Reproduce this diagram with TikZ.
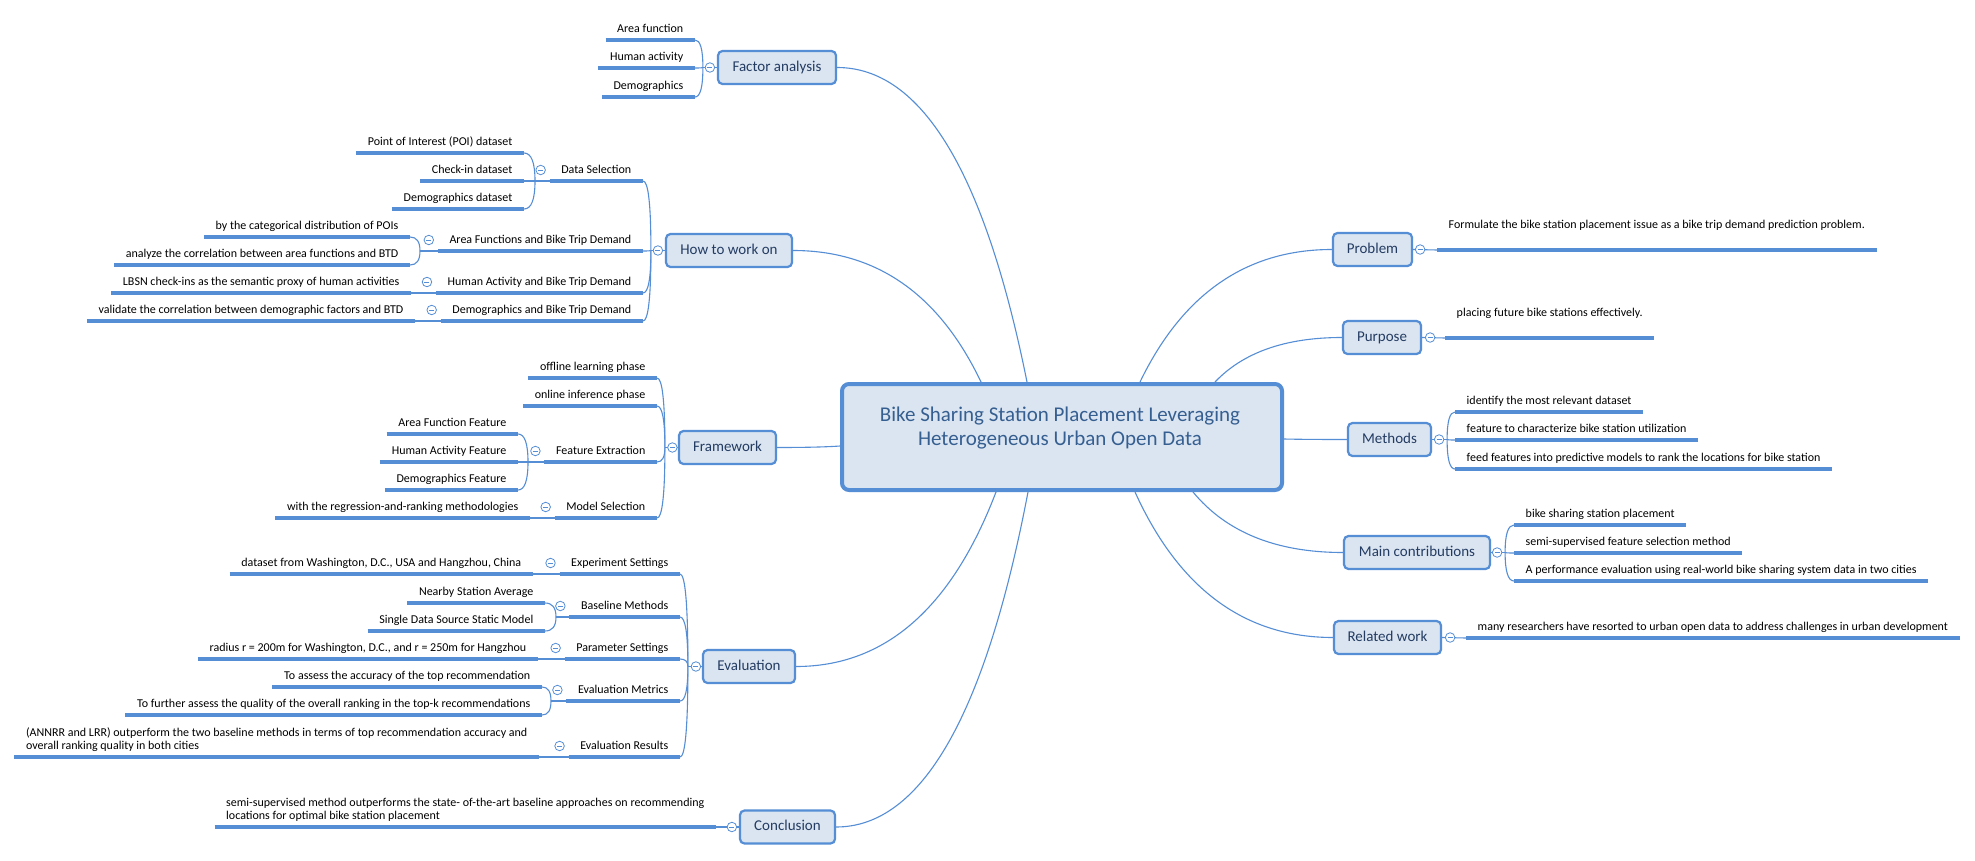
\documentclass[tikz,border=0pt]{standalone}
\usepackage{fontspec}
\setmainfont{Carlito}
\usetikzlibrary{calc}
\definecolor{bblue}{RGB}{85,142,213}
\definecolor{bfill}{RGB}{219,229,241}
\definecolor{tdark}{RGB}{36,60,98}
\definecolor{rtext}{RGB}{54,95,145}
\newcommand{\mainlink}[2]{%
  \coordinate (mlA) at ($(#1)!1/3!(#2)$);
  \coordinate (mlC) at (mlA |- #2);
  \draw[conn] (#1) .. controls ($(#1)!2/3!(mlC)$) and ($(#2)!2/3!(mlC)$) .. (#2);}
\newcommand{\brk}[2]{%
  \coordinate (bkC) at (#1 |- #2);
  \draw[conn] (#1) .. controls ($(#1)!2/3!(bkC)$) and ($(#2)!2/3!(bkC)$) .. (#2);}
\tikzset{
  conn/.style={draw=bblue, line width=1.1pt},
  uline/.style={draw=bblue, line width=3.2pt},
  topic/.style={draw=bblue, line width=2.2pt, fill=bfill, rounded corners=4.5pt,
    minimum height=33pt, inner xsep=4pt, inner ysep=0pt, text height=11pt, text depth=3.5pt,
    font=\fontsize{15}{18}\selectfont, text=tdark},
  leafL/.style={anchor=south east, inner xsep=11.5pt, inner ysep=0pt, text depth=7.5pt,
    font=\fontsize{12}{13}\selectfont, text=black},
  leafR/.style={leafL, anchor=south west},
  leafhi/.style={text depth=21.5pt},
  toggle/.style={circle, draw=bblue, fill=white, line width=0.8pt, minimum size=9.5pt, inner sep=0pt,
    path picture={\draw[bblue, line width=0.8pt] ([xshift=-2.5pt]path picture bounding box.center) -- ([xshift=2.5pt]path picture bounding box.center);}},
  rootbox/.style={draw=bblue, line width=4pt, fill=bfill, rounded corners=7pt,
    minimum width=440pt, minimum height=106pt},
  roottitle/.style={font=\fontsize{21}{24}\selectfont, text=rtext, align=center},
}
\begin{document}
\begin{tikzpicture}[x=1pt,y=-1pt]
\useasboundingbox (0,0) rectangle (1975,861);
\fill[white] (0,0) rectangle (1975,861);

% root
\node[rootbox] (root) at (1062,437) {};
\node[roottitle] (title) at (1060,428) {Bike Sharing Station Placement Leveraging\\Heterogeneous Urban Open Data};

% main topics
\node[topic, minimum width=118pt] (fa) at (777,67.5) {Factor analysis};
\node[topic, minimum width=126pt] (hw) at (729,250.5) {How to work on};
\node[topic, minimum width=97pt] (fw) at (727.5,447.5) {Framework};
\node[topic, minimum width=92pt] (ev) at (749,666.5) {Evaluation};
\node[topic, minimum width=95pt] (co) at (787.5,827) {Conclusion};
\node[topic, minimum width=79pt] (pr) at (1372.5,249.5) {Problem};
\node[topic, minimum width=78pt] (pu) at (1382,337.5) {Purpose};
\node[topic, minimum width=83pt] (me) at (1389.5,439.5) {Methods};
\node[topic, minimum width=146pt] (mc) at (1417,552.5) {Main contributions};
\node[topic, minimum width=107pt] (rw) at (1387.5,637.5) {Related work};

% Factor analysis
\node[leafL] (fa1) at (695,40) {Area function};
\node[leafL] (fa2) at (695,68) {Human activity};
\node[leafL] (fa3) at (695,97) {Demographics};

% How to work on
\node[leafL] (ds) at (643,181) {Data Selection};
\node[leafL] (af) at (643,251) {Area Functions and Bike Trip Demand};
\node[leafL] (ha) at (643,293) {Human Activity and Bike Trip Demand};
\node[leafL] (dm) at (643,321) {Demographics and Bike Trip Demand};
\node[leafL] (ds1) at (524,153) {Point of Interest (POI) dataset};
\node[leafL] (ds2) at (524,181) {Check-in dataset};
\node[leafL] (ds3) at (524,209) {Demographics dataset};
\node[leafL] (af1) at (410,237) {by the categorical distribution of POIs};
\node[leafL] (af2) at (410,265) {analyze the correlation between area functions and BTD};
\node[leafL] (ha1) at (411,293) {LBSN check-ins as the semantic proxy of human activities};
\node[leafL] (dm1) at (415,321) {validate the correlation between demographic factors and BTD};

% Framework
\node[leafL] (fw1) at (657,378) {offline learning phase};
\node[leafL] (fw2) at (657,406) {online inference phase};
\node[leafL] (fe) at (657,462) {Feature Extraction};
\node[leafL] (ms) at (657,518) {Model Selection};
\node[leafL] (fe1) at (518,434) {Area Function Feature};
\node[leafL] (fe2) at (518,462) {Human Activity Feature};
\node[leafL] (fe3) at (518,490) {Demographics Feature};
\node[leafL] (ms1) at (530,518) {with the regression-and-ranking methodologies};

% Evaluation
\node[leafL] (es) at (680,574) {Experiment Settings};
\node[leafL] (bm) at (680,617) {Baseline Methods};
\node[leafL] (ps) at (680,659) {Parameter Settings};
\node[leafL] (em) at (680,701) {Evaluation Metrics};
\node[leafL] (er) at (680,757) {Evaluation Results};
\node[leafL] (es1) at (533,574) {dataset from Washington, D.C., USA and Hangzhou, China};
\node[leafL] (bm1) at (545,603) {Nearby Station Average};
\node[leafL] (bm2) at (545,631) {Single Data Source Static Model};
\node[leafL] (ps1) at (538,659) {radius r = 200m for Washington, D.C., and r = 250m for Hangzhou};
\node[leafL] (em1) at (542,687) {To assess the accuracy of the top recommendation};
\node[leafL] (em2) at (542,715) {To further assess the quality of the overall ranking in the top-k recommendations};
\node[leafL] (er1) at (539,757) {\begin{tabular}[b]{@{}l@{}}(ANNRR and LRR) outperform the two baseline methods in terms of top recommendation accuracy and\\overall ranking quality in both cities\end{tabular}};

% Conclusion
\node[leafL] (co1) at (716,827) {\begin{tabular}[b]{@{}l@{}}semi-supervised method outperforms the state- of-the-art baseline approaches on recommending\\locations for optimal bike station placement\end{tabular}};

% right side leaves
\node[leafR, leafhi] (pr1) at (1437,250) {Formulate the bike station placement issue as a bike trip demand prediction problem.};
\node[leafR, leafhi] (pu1) at (1445,338) {placing future bike stations effectively.};
\node[leafR] (me1) at (1455,412) {identify the most relevant dataset};
\node[leafR] (me2) at (1455,440) {feature to characterize bike station utilization};
\node[leafR] (me3) at (1455,469) {feed features into predictive models to rank the locations for bike station};
\node[leafR] (mc1) at (1514,525) {bike sharing station placement};
\node[leafR] (mc2) at (1514,553) {semi-supervised feature selection method};
\node[leafR] (mc3) at (1514,581) {A performance evaluation using real-world bike sharing system data in two cities};
\node[leafR] (rw1) at (1466,638) {many researchers have resorted to urban open data to address challenges in urban development};

% root anchor points
\coordinate (rHW) at ([xshift=141pt]root.north west);
\coordinate (rFA) at ([xshift=187pt]root.north west);
\coordinate (rPR) at ([xshift=300pt]root.north west);
\coordinate (rPU) at ([xshift=375pt]root.north west);
\coordinate (rEV) at ([xshift=156pt]root.south west);
\coordinate (rCO) at ([xshift=188pt]root.south west);
\coordinate (rRW) at ([xshift=295pt]root.south west);
\coordinate (rMC) at ([xshift=353pt]root.south west);
\coordinate (rFW) at ([yshift=-9pt]root.west);
\coordinate (rME) at ([yshift=-2pt]root.east);

% main links
\mainlink{rHW}{hw.east}
\mainlink{rFA}{fa.east}
\mainlink{rPR}{pr.west}
\mainlink{rPU}{pu.west}
\mainlink{rFW}{fw.east}
\mainlink{rME}{me.west}
\mainlink{rEV}{ev.east}
\mainlink{rCO}{co.east}
\mainlink{rRW}{rw.west}
\mainlink{rMC}{mc.west}

% brackets: Factor analysis
\coordinate (Jfa) at ([xshift=-14pt]fa.west);
\draw[conn] (Jfa) -- (fa.west);
\brk{Jfa}{fa1.south east}
\brk{Jfa}{fa2.south east}
\brk{Jfa}{fa3.south east}

% How to work on
\coordinate (Jhw) at ([xshift=-14pt]hw.west);
\draw[conn] (Jhw) -- (hw.west);
\brk{Jhw}{ds.south east}
\brk{Jhw}{af.south east}
\brk{Jhw}{ha.south east}
\brk{Jhw}{dm.south east}
\coordinate (Jds) at (535,181);
\draw[conn] (Jds) -- (ds.south west);
\brk{Jds}{ds1.south east}
\brk{Jds}{ds2.south east}
\brk{Jds}{ds3.south east}
\coordinate (Jaf) at (420,251);
\draw[conn] (Jaf) -- (af.south west);
\brk{Jaf}{af1.south east}
\brk{Jaf}{af2.south east}
\draw[conn] (ha1.south east) -- (ha.south west);
\draw[conn] (dm1.south east) -- (dm.south west);

% Framework
\coordinate (Jfw) at ([xshift=-13pt]fw.west);
\draw[conn] (Jfw) -- (fw.west);
\brk{Jfw}{fw1.south east}
\brk{Jfw}{fw2.south east}
\brk{Jfw}{fe.south east}
\brk{Jfw}{ms.south east}
\coordinate (Jfe) at (528,462);
\draw[conn] (Jfe) -- (fe.south west);
\brk{Jfe}{fe1.south east}
\brk{Jfe}{fe2.south east}
\brk{Jfe}{fe3.south east}
\draw[conn] (ms1.south east) -- (ms.south west);

% Evaluation
\coordinate (Jev) at ([xshift=-14pt]ev.west);
\draw[conn] (Jev) -- (ev.west);
\brk{Jev}{es.south east}
\brk{Jev}{bm.south east}
\brk{Jev}{ps.south east}
\brk{Jev}{em.south east}
\brk{Jev}{er.south east}
\draw[conn] (es1.south east) -- (es.south west);
\coordinate (Jbm) at (556,617);
\draw[conn] (Jbm) -- (bm.south west);
\brk{Jbm}{bm1.south east}
\brk{Jbm}{bm2.south east}
\draw[conn] (ps1.south east) -- (ps.south west);
\coordinate (Jem) at (551,701);
\draw[conn] (Jem) -- (em.south west);
\brk{Jem}{em1.south east}
\brk{Jem}{em2.south east}
\draw[conn] (er1.south east) -- (er.south west);

% Conclusion
\draw[conn] (co1.south east) -- (co.west);

% right side
\draw[conn] (pr.east) -- (pr1.south west);
\draw[conn] (pu.east) -- (pu1.south west);
\coordinate (Jme) at ([xshift=15pt]me.east);
\draw[conn] (me.east) -- (Jme);
\brk{Jme}{me1.south west}
\brk{Jme}{me2.south west}
\brk{Jme}{me3.south west}
\coordinate (Jmc) at ([xshift=14pt]mc.east);
\draw[conn] (mc.east) -- (Jmc);
\brk{Jmc}{mc1.south west}
\brk{Jmc}{mc2.south west}
\brk{Jmc}{mc3.south west}
\draw[conn] (rw.east) -- (rw1.south west);

% underlines
\foreach \n in {fa1,fa2,fa3,ds,af,ha,dm,ds1,ds2,ds3,af1,af2,ha1,dm1,fw1,fw2,fe,ms,fe1,fe2,fe3,ms1,es,bm,ps,em,er,es1,bm1,bm2,ps1,em1,em2,er1,co1,pr1,pu1,me1,me2,me3,mc1,mc2,mc3,rw1}
  \draw[uline] (\n.south west) -- (\n.south east);

% toggles
\node[toggle] (tfa) at ([xshift=-7pt]fa.west) {};
\node[toggle] (thw) at ([xshift=-7pt]hw.west) {};
\node[toggle] (tfw) at ([xshift=-5.5pt]fw.west) {};
\node[toggle] (tev) at ([xshift=-6pt]ev.west) {};
\node[toggle] (tco) at ([xshift=-7pt]co.west) {};
\node[toggle] (tpr) at ([xshift=7pt]pr.east) {};
\node[toggle] (tpu) at ([xshift=8pt]pu.east) {};
\node[toggle] (tme) at ([xshift=7pt]me.east) {};
\node[toggle] (tmc) at ([xshift=6pt]mc.east) {};
\node[toggle] (trw) at ([xshift=8pt]rw.east) {};
\foreach \n in {ds,af,ha,dm,fe,ms,es,bm,ps,em,er}
  \node[toggle] (t\n) at ([xshift=-9pt,yshift=11pt]\n.south west) {};
\end{tikzpicture}
\end{document}
